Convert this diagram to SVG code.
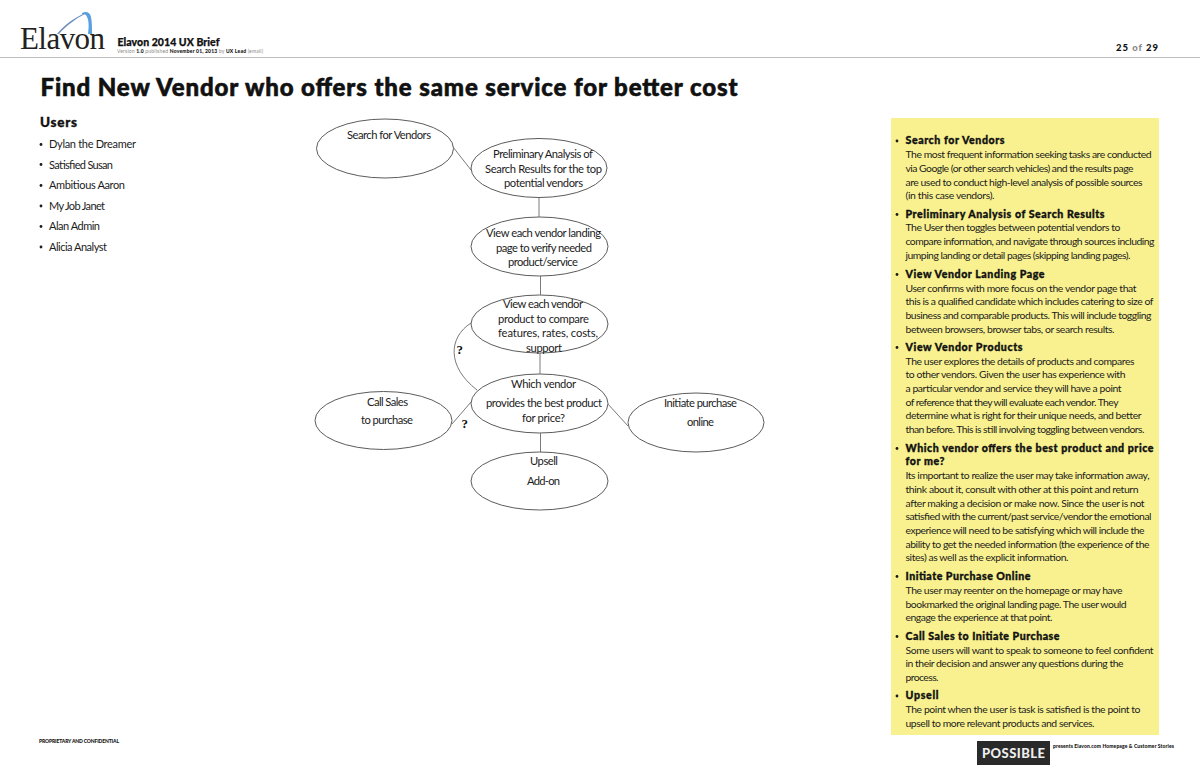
<svg xmlns="http://www.w3.org/2000/svg" width="1200" height="776" viewBox="0 0 1200 776">
<style>
text{font-family:"Lato","Noto Sans",sans-serif;fill:#1c1c1c}
.n{font-size:11.2px}
.b{font-size:10.4px}
.h{font-size:10.6px;font-weight:900;fill:#111;stroke:#111;stroke-width:.35px}
.u{font-size:11px}
.e{fill:#fff;stroke:#5c5c5c;stroke-width:1}
.c{fill:none;stroke:#7a7a7a;stroke-width:1}
.g{fill:#888}
.k{font-weight:900;fill:#111}
.s{stroke:#111;stroke-width:.6px}
.q{font-family:"Liberation Serif",serif;font-size:13px;font-weight:700;fill:#111}
</style>
<rect width="1200" height="776" fill="#fff"/>
<g id="header">
<path d="M57 34C64 25 74 18 85 13L85 14C75 19 66 26 59 34Z" fill="#6f8fc0"/>
<path d="M82 13C86 11 90 12 91 17C92 22 92 28 92 34L88 34C89 27 89 21 87 17C86 14 84 14 82 14Z" fill="#5a9fe0"/>
<text x="20" y="49" style="font-family:'Liberation Serif',serif;font-size:31px;fill:#222" textLength="85">Elavon</text>
<text x="117.500" y="46" class="k" style="font-size:10.5px;stroke:#111;stroke-width:.25px" textLength="102">Elavon 2014 UX Brief</text>
<text x="117" y="53" style="font-size:5px" textLength="146"><tspan class="g">Version </tspan><tspan class="k">1.0</tspan><tspan class="g"> published </tspan><tspan class="k">November 01, 2013</tspan><tspan class="g"> by </tspan><tspan class="k">UX Lead</tspan><tspan class="g"> (email)</tspan></text>
<text x="1116" y="50.500" style="font-size:9.500px;font-weight:900" textLength="42"><tspan fill="#111">25 </tspan><tspan class="g"> of </tspan><tspan fill="#111"> 29</tspan></text>
<rect x="0" y="57" width="1200" height="1" fill="#bdbdbd"/>
</g>
<text id="title" x="40.500" y="96" class="k s" style="font-size:24px" textLength="697">Find New Vendor who offers the same service for better cost</text>
<g id="users">
<text x="40" y="127" class="k" style="font-size:13.500px;stroke:#111;stroke-width:.35px" textLength="37">Users</text>
<g fill="#1c1c1c"><circle cx="41" cy="144.500" r="1.400"/><circle cx="41" cy="164.500" r="1.400"/><circle cx="41" cy="185.500" r="1.400"/><circle cx="41" cy="206" r="1.400"/><circle cx="41" cy="226.500" r="1.400"/><circle cx="41" cy="247" r="1.400"/></g>
<text x="49" y="148" class="u" textLength="87">Dylan the Dreamer</text>
<text x="49" y="168.500" class="u" textLength="64">Satisfied Susan</text>
<text x="49" y="189" class="u" textLength="76">Ambitious Aaron</text>
<text x="49" y="210" class="u" textLength="56">My Job Janet</text>
<text x="49" y="230" class="u" textLength="51">Alan Admin</text>
<text x="49" y="251" class="u" textLength="58">Alicia Analyst</text>
</g>
<g id="connectors">
<path class="c" d="M453 147L471 170"/>
<path class="c" d="M539 197V217"/>
<path class="c" d="M540.500 276V295"/>
<path class="c" d="M540 353V374"/>
<path class="c" d="M471 323C449 337 446 366 477 390"/>
<path class="c" d="M452 424L471 402"/>
<path class="c" d="M607 403L628 426"/>
<path class="c" d="M540.500 433V452"/>
</g>
<g id="node-search"><ellipse class="e" cx="385" cy="148.500" rx="68.500" ry="29.500"/><text class="n" x="347" y="139" textLength="84">Search for Vendors</text></g>
<g id="node-preliminary"><ellipse class="e" cx="539" cy="168" rx="68" ry="29.500"/><text class="n" x="493" y="158" textLength="100">Preliminary Analysis of</text><text class="n" x="485" y="172.500" textLength="117">Search Results for the top</text><text class="n" x="504" y="187" textLength="79">potential vendors</text></g>
<g id="node-landing"><ellipse class="e" cx="539.500" cy="246.500" rx="68.500" ry="29.500"/><text class="n" x="486" y="237" textLength="115">View each vendor landing</text><text class="n" x="496" y="252" textLength="96">page to verify needed</text><text class="n" x="508" y="265.500" textLength="70">product/service</text></g>
<g id="node-product"><ellipse class="e" cx="539.500" cy="324" rx="68.500" ry="29"/><text class="n" x="503" y="308" textLength="80">View each vendor</text><text class="n" x="498" y="323" textLength="91">product to compare</text><text class="n" x="498" y="337" textLength="100">features, rates, costs,</text><text class="n" x="526" y="352" textLength="36">support</text></g>
<g id="node-which"><ellipse class="e" cx="539.500" cy="403.500" rx="68.500" ry="29.500"/><text class="n" x="511" y="388" textLength="65">Which vendor</text><text class="n" x="486" y="407" textLength="116">provides the best product</text><text class="n" x="522" y="422" textLength="43">for price?</text></g>
<g id="node-call"><ellipse class="e" cx="383.500" cy="420.500" rx="68.500" ry="29"/><text class="n" x="367" y="406" textLength="41">Call Sales</text><text class="n" x="361" y="424" textLength="52">to purchase</text></g>
<g id="node-initiate"><ellipse class="e" cx="696" cy="422.500" rx="68" ry="29.500"/><text class="n" x="664" y="407" textLength="73">Initiate purchase</text><text class="n" x="687" y="426" textLength="27">online</text></g>
<g id="node-upsell"><ellipse class="e" cx="539.500" cy="481" rx="68.500" ry="29"/><text class="n" x="530" y="465" textLength="28">Upsell</text><text class="n" x="527" y="485" textLength="33">Add-on</text></g>
<text x="456.500" y="354" class="q">?</text>
<text x="461.500" y="428" class="q">?</text>
<g id="notes">
<rect x="891" y="118" width="268" height="617" fill="#f9f18f"/>
<g fill="#1c1c1c"><circle cx="897" cy="141" r="1.400"/><circle cx="897" cy="214.500" r="1.400"/><circle cx="897" cy="274.500" r="1.400"/><circle cx="897" cy="347.500" r="1.400"/><circle cx="897" cy="448.500" r="1.400"/><circle cx="897" cy="576.500" r="1.400"/><circle cx="897" cy="636.500" r="1.400"/><circle cx="897" cy="696" r="1.400"/></g>
<text class="h" x="905.500" y="144" textLength="99">Search for Vendors</text>
<text class="b" x="905.500" y="158" textLength="246">The most frequent information seeking tasks are conducted</text>
<text class="b" x="905.500" y="172" textLength="228">via Google (or other search vehicles) and the results page</text>
<text class="b" x="905.500" y="185.500" textLength="237">are used to conduct high-level analysis of possible sources</text>
<text class="b" x="905.500" y="199" textLength="89">(in this case vendors).</text>
<text class="h" x="905.500" y="217.500" textLength="199">Preliminary Analysis of Search Results</text>
<text class="b" x="905.500" y="231" textLength="215">The User then toggles between potential vendors to</text>
<text class="b" x="905.500" y="245" textLength="249">compare information, and navigate through sources including</text>
<text class="b" x="905.500" y="258.500" textLength="225">jumping landing or detail pages (skipping landing pages).</text>
<text class="h" x="905.500" y="277.500" textLength="139">View Vendor Landing Page</text>
<text class="b" x="905.500" y="291.500" textLength="231">User confirms with more focus on the vendor page that</text>
<text class="b" x="905.500" y="305" textLength="248">this is a qualified candidate which includes catering to size of</text>
<text class="b" x="905.500" y="319" textLength="246">business and comparable products. This will include toggling</text>
<text class="b" x="905.500" y="332.500" textLength="209">between browsers, browser tabs, or search results.</text>
<text class="h" x="905.500" y="351" textLength="117">View Vendor Products</text>
<text class="b" x="905.500" y="364.500" textLength="229">The user explores the details of products and compares</text>
<text class="b" x="905.500" y="378" textLength="220">to other vendors. Given the user has experience with</text>
<text class="b" x="905.500" y="391.500" textLength="216">a particular vendor and service they will have a point</text>
<text class="b" x="905.500" y="405.500" textLength="213">of reference that they will evaluate each vendor. They</text>
<text class="b" x="905.500" y="419" textLength="236">determine what is right for their unique needs, and better</text>
<text class="b" x="905.500" y="433" textLength="239">than before. This is still involving toggling between vendors.</text>
<text class="h" x="905.500" y="451.500" textLength="248">Which vendor offers the best product and price</text>
<text class="h" x="905.500" y="465" textLength="39">for me?</text>
<text class="b" x="905.500" y="479" textLength="244">Its important to realize the user may take information away,</text>
<text class="b" x="905.500" y="492.500" textLength="233">think about it, consult with other at this point and return</text>
<text class="b" x="905.500" y="506.500" textLength="239">after making a decision or make now. Since the user is not</text>
<text class="b" x="905.500" y="520" textLength="246">satisfied with the current/past service/vendor the emotional</text>
<text class="b" x="905.500" y="533.500" textLength="239">experience will need to be satisfying which will include the</text>
<text class="b" x="905.500" y="547.500" textLength="244">ability to get the needed information (the experience of the</text>
<text class="b" x="905.500" y="561" textLength="163">sites) as well as the explicit information.</text>
<text class="h" x="905.500" y="580" textLength="125">Initiate Purchase Online</text>
<text class="b" x="905.500" y="593.500" textLength="217">The user may reenter on the homepage or may have</text>
<text class="b" x="905.500" y="607.500" textLength="221">bookmarked the original landing page. The user would</text>
<text class="b" x="905.500" y="621" textLength="147">engage the experience at that point.</text>
<text class="h" x="905.500" y="639.500" textLength="154">Call Sales to Initiate Purchase</text>
<text class="b" x="905.500" y="653.500" textLength="248">Some users will want to speak to someone to feel confident</text>
<text class="b" x="905.500" y="667" textLength="218">in their decision and answer any questions during the</text>
<text class="b" x="905.500" y="680.500" textLength="33">process.</text>
<text class="h" x="905.500" y="699" textLength="33">Upsell</text>
<text class="b" x="905.500" y="713" textLength="235">The point when the user is task is satisfied is the point to</text>
<text class="b" x="905.500" y="727" textLength="189">upsell to more relevant products and services.</text>
</g>
<g id="footer">
<text x="39" y="743" class="k" style="font-size:5px" textLength="80">PROPRIETARY AND CONFIDENTIAL</text>
<rect x="977" y="741" width="73" height="24" fill="#2a2a2a"/>
<text x="982" y="758" style="font-size:13px;font-weight:900;fill:#eee" textLength="63">POSSIBLE</text>
<text x="1053" y="748" class="k" style="font-size:5px" textLength="121">presents Elavon.com Homepage &amp; Customer Stories</text>
</g>
</svg>
